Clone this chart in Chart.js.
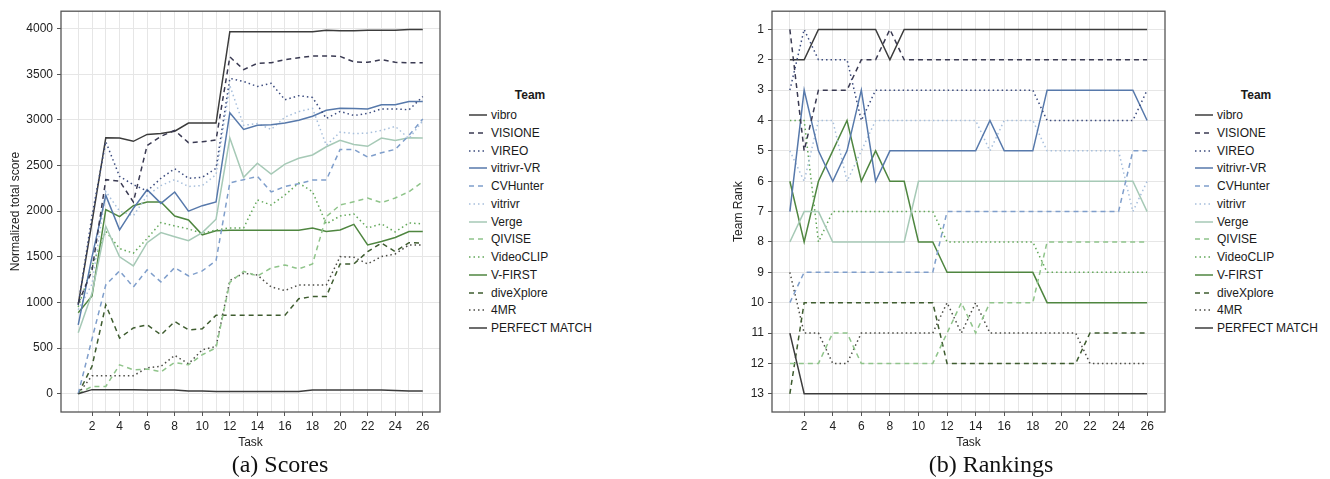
<!DOCTYPE html>
<html>
<head>
<meta charset="utf-8">
<script src="https://cdn.jsdelivr.net/npm/chart.js@4.4.1/dist/chart.umd.min.js"></script>
<style>
    body { margin: 0; background: #fff; width: 1330px; height: 479px; position: relative; overflow: hidden;
           font-family: "Liberation Sans", Arial, sans-serif; }
    .box { position: absolute; top: 0; }
    .legend { position: absolute; font-size: 12px; color: #1a1a1a; }
    .legend .title { position: absolute; font-weight: bold; width: 100px; text-align: center; }
    .legend .item { position: absolute; white-space: nowrap; height: 14px; line-height: 14px; }
    .legend svg { position: absolute; left: 0; top: 5px; }
    .legend span { position: absolute; left: 22px; top: 0; }
    .caption { position: absolute; top: 450px; font-family: "Liberation Serif", "DejaVu Serif", serif; font-size: 24px;
               line-height: 28px; color: #111; text-align: center; width: 300px; }
</style>
</head>
<body>
<div class="box" style="left:0;width:445px;height:454px"><canvas id="scoreChart"></canvas></div>
<div class="box" style="left:723px;width:447px;height:454px"><canvas id="rankChart"></canvas></div>
<div class="legend" id="legendA" style="left:469px;top:88px"></div>
<div class="legend" id="legendB" style="left:1195px;top:88px"></div>
<div class="caption" style="left:130px">(a) Scores</div>
<div class="caption" style="left:841px">(b) Rankings</div>

<script>
// data
const tasks = [1, 2, 3, 4, 5, 6, 7, 8, 9, 10, 11, 12, 13, 14, 15, 16, 17, 18, 19, 20, 21, 22, 23, 24, 25, 26];
const teams = ['vibro', 'VISIONE', 'VIREO', 'vitrivr-VR', 'CVHunter', 'vitrivr', 'Verge', 'QIVISE',
               'VideoCLIP', 'V-FIRST', 'diveXplore', '4MR', 'PERFECT MATCH'];
const scoreTicks = [0, 500, 1000, 1500, 2000, 2500, 3000, 3500, 4000];
const rankTicks = [1, 2, 3, 4, 5, 6, 7, 8, 9, 10, 11, 12, 13];

// normalized total score per task
const scoreVibro      = [0, 45, 45, 45, 45, 40, 40, 40, 30, 30, 25, 25, 25, 25, 25, 25, 25, 40, 40, 40, 40, 40, 40, 35, 30, 30];
const scoreVisione    = [990, 1350, 2345, 2330, 2100, 2720, 2820, 2885, 2750, 2760, 2780, 3690, 3550, 3620, 3625, 3660, 3680, 3700, 3700, 3695, 3635, 3630, 3660, 3630, 3625, 3625];
const scoreVireo      = [970, 1950, 2760, 2380, 2290, 2220, 2360, 2465, 2360, 2370, 2470, 3455, 3420, 3365, 3400, 3220, 3265, 3245, 3015, 3092, 3048, 3070, 3120, 3120, 3110, 3255];
const scoreVitrivrVR  = [755, 1500, 2173, 1795, 2030, 2235, 2085, 2210, 2000, 2060, 2100, 3077, 2895, 2940, 2945, 2965, 2995, 3040, 3105, 3128, 3125, 3120, 3165, 3165, 3200, 3200];
const scoreCVHunter   = [0, 600, 1192, 1345, 1170, 1357, 1225, 1382, 1290, 1345, 1458, 2310, 2345, 2380, 2210, 2270, 2300, 2340, 2340, 2676, 2676, 2592, 2640, 2676, 2830, 3010];
const scoreVitrivr    = [920, 1200, 2216, 2000, 1950, 2170, 2280, 2345, 2270, 2280, 2400, 3375, 2940, 2960, 2895, 3030, 3090, 3125, 2720, 2866, 2850, 2855, 2884, 2928, 2795, 2990];
const scoreVerge      = [667, 1100, 1834, 1500, 1400, 1655, 1765, 1720, 1677, 1765, 1912, 2800, 2370, 2525, 2405, 2515, 2580, 2615, 2705, 2775, 2730, 2710, 2800, 2775, 2805, 2800];
const scoreQivise     = [0, 80, 80, 317, 262, 270, 240, 343, 317, 427, 503, 1220, 1340, 1290, 1378, 1411, 1367, 1422, 1940, 2067, 2104, 2144, 2093, 2144, 2213, 2322];
const scoreVideoClip  = [950, 1400, 1780, 1590, 1540, 1700, 1874, 1838, 1805, 1755, 1794, 1816, 1816, 2122, 2067, 2177, 2308, 2213, 1860, 1947, 1969, 1816, 1860, 1772, 1871, 1860];
const scoreVFirst     = [886, 1070, 2016, 1940, 2060, 2100, 2100, 1947, 1904, 1740, 1785, 1790, 1790, 1790, 1790, 1790, 1790, 1816, 1776, 1794, 1855, 1630, 1667, 1711, 1776, 1776];
const scoreDiveXplore = [0, 300, 974, 610, 720, 755, 645, 791, 700, 711, 860, 860, 860, 860, 860, 860, 1040, 1065, 1065, 1422, 1422, 1557, 1650, 1557, 1655, 1650];
const score4MR        = [0, 197, 197, 197, 197, 284, 300, 420, 328, 481, 518, 1240, 1320, 1300, 1170, 1130, 1192, 1190, 1190, 1502, 1495, 1422, 1502, 1531, 1630, 1630];
const scorePerfect    = [980, 1880, 2805, 2800, 2765, 2840, 2850, 2875, 2965, 2965, 2965, 3965, 3965, 3965, 3965, 3965, 3965, 3965, 3980, 3975, 3975, 3980, 3980, 3980, 3990, 3990];

// team rank per task
const rankVibro      = [11, 13, 13, 13, 13, 13, 13, 13, 13, 13, 13, 13, 13, 13, 13, 13, 13, 13, 13, 13, 13, 13, 13, 13, 13, 13];
const rankVisione    = [1, 5, 3, 3, 3, 2, 2, 1, 2, 2, 2, 2, 2, 2, 2, 2, 2, 2, 2, 2, 2, 2, 2, 2, 2, 2];
const rankVireo      = [3, 1, 2, 2, 2, 4, 3, 3, 3, 3, 3, 3, 3, 3, 3, 3, 3, 3, 4, 4, 4, 4, 4, 4, 4, 3];
const rankVitrivrVR  = [7, 3, 5, 6, 5, 3, 6, 5, 5, 5, 5, 5, 5, 5, 4, 5, 5, 5, 3, 3, 3, 3, 3, 3, 3, 4];
const rankCVHunter   = [10, 9, 9, 9, 9, 9, 9, 9, 9, 9, 9, 7, 7, 7, 7, 7, 7, 7, 7, 7, 7, 7, 7, 7, 5, 5];
const rankVitrivr    = [5, 6, 4, 4, 6, 5, 4, 4, 4, 4, 4, 4, 4, 4, 5, 4, 4, 4, 5, 5, 5, 5, 5, 5, 7, 6];
const rankVerge      = [8, 7, 7, 8, 8, 8, 8, 8, 8, 6, 6, 6, 6, 6, 6, 6, 6, 6, 6, 6, 6, 6, 6, 6, 6, 7];
const rankQivise     = [12, 12, 12, 11, 11, 12, 12, 12, 12, 12, 12, 11, 10, 11, 10, 10, 10, 10, 8, 8, 8, 8, 8, 8, 8, 8];
const rankVideoClip  = [4, 4, 8, 7, 7, 7, 7, 7, 7, 7, 7, 8, 8, 8, 8, 8, 8, 8, 9, 9, 9, 9, 9, 9, 9, 9];
const rankVFirst     = [6, 8, 6, 5, 4, 6, 5, 6, 6, 8, 8, 9, 9, 9, 9, 9, 9, 9, 10, 10, 10, 10, 10, 10, 10, 10];
const rankDiveXplore = [13, 10, 10, 10, 10, 10, 10, 10, 10, 10, 10, 12, 12, 12, 12, 12, 12, 12, 12, 12, 12, 11, 11, 11, 11, 11];
const rank4MR        = [9, 11, 11, 12, 12, 11, 11, 11, 11, 11, 11, 10, 11, 10, 11, 11, 11, 11, 11, 11, 11, 12, 12, 12, 12, 12];
const rankPerfect    = [2, 2, 1, 1, 1, 1, 1, 2, 1, 1, 1, 1, 1, 1, 1, 1, 1, 1, 1, 1, 1, 1, 1, 1, 1, 1];

const scoreSeries = [scoreVibro, scoreVisione, scoreVireo, scoreVitrivrVR, scoreCVHunter, scoreVitrivr, scoreVerge,
                     scoreQivise, scoreVideoClip, scoreVFirst, scoreDiveXplore, score4MR, scorePerfect];
const rankSeries = [rankVibro, rankVisione, rankVireo, rankVitrivrVR, rankCVHunter, rankVitrivr, rankVerge,
                    rankQivise, rankVideoClip, rankVFirst, rankDiveXplore, rank4MR, rankPerfect];

// line look per team
const DASHED = [5, 4], DOTTED = [1.5, 3], SOLID = [];
const teamColors = ['#3c3c3c', '#3a3a52', '#3b4b7e', '#5779ab', '#7f9ecb', '#a7bfdc', '#a6c9b6',
                    '#8fc48a', '#63a85a', '#4f8640', '#3e5c2f', '#4b4b45', '#3c3c3c'];
const teamDashes = [SOLID, DASHED, DOTTED, SOLID, DASHED, DOTTED, SOLID, DASHED, DOTTED, SOLID, DASHED, DOTTED, SOLID];

Chart.defaults.font.family = '"Liberation Sans", Arial, sans-serif';
Chart.defaults.font.size = 12;
Chart.defaults.color = '#333';

const framePlugin = {
    id: 'frame',
    afterDraw(chart) {
        const { ctx, chartArea: a } = chart;
        ctx.save();
        ctx.strokeStyle = '#555';
        ctx.lineWidth = 1.3;
        ctx.strokeRect(a.left, a.top, a.right - a.left, a.bottom - a.top);
        ctx.restore();
    }
};

function buildDatasets(series) {
    return teams.map((name, i) => ({
        label: name,
        data: tasks.map((t, j) => ({ x: t, y: series[i][j] })),
        borderColor: teamColors[i],
        borderDash: teamDashes[i],
        borderWidth: 1.5,
        pointRadius: 0,
        tension: 0,
        fill: false
    }));
}

function xScale() {
    return {
        type: 'linear',
        min: -0.25,
        max: 27.25,
        afterBuildTicks: s => { s.ticks = tasks.map(v => ({ value: v })); },
        afterFit: s => { s.height = 42; },
        border: { display: false },
        grid: {
            color: '#e6e6e6',
            lineWidth: 1,
            tickLength: 4,
            tickColor: c => (c.tick && c.tick.value % 2 === 0) ? '#555' : 'rgba(0,0,0,0)'
        },
        ticks: {
            autoSkip: false,
            maxRotation: 0,
            padding: 3,
            color: '#222',
            callback: v => (v % 2 === 0 ? String(v) : '')
        },
        title: { display: true, text: 'Task', color: '#222', padding: { top: 2, bottom: 4 } }
    };
}

function initScoreChart() {
    const ctx = document.getElementById('scoreChart').getContext('2d');
    new Chart(ctx, {
        type: 'line',
        data: { datasets: buildDatasets(scoreSeries) },
        plugins: [framePlugin],
        options: {
            responsive: true,
            maintainAspectRatio: false,
            animation: false,
            layout: { padding: { left: 4, top: 10, right: 5, bottom: 0 } },
            plugins: { legend: { display: false }, tooltip: { enabled: false } },
            scales: {
                x: xScale(),
                y: {
                    min: -200,
                    max: 4190,
                    afterBuildTicks: s => { s.ticks = scoreTicks.map(v => ({ value: v })); },
                    afterFit: s => { s.width = 57; },
                    border: { display: false },
                    grid: { color: '#e6e6e6', tickLength: 4, tickColor: '#555' },
                    ticks: { padding: 4, color: '#222', callback: v => String(v) },
                    title: { display: true, text: 'Normalized total score', color: '#222' }
                }
            }
        }
    });
}

function initRankChart() {
    const ctx = document.getElementById('rankChart').getContext('2d');
    new Chart(ctx, {
        type: 'line',
        data: { datasets: buildDatasets(rankSeries) },
        plugins: [framePlugin],
        options: {
            responsive: true,
            maintainAspectRatio: false,
            animation: false,
            layout: { padding: { left: 4, top: 10, right: 5, bottom: 0 } },
            plugins: { legend: { display: false }, tooltip: { enabled: false } },
            scales: {
                x: xScale(),
                y: {
                    reverse: true,
                    min: 0.4,
                    max: 13.6,
                    afterBuildTicks: s => { s.ticks = rankTicks.map(v => ({ value: v })); },
                    afterFit: s => { s.width = 45; },
                    border: { display: false },
                    grid: { color: '#e6e6e6', tickLength: 4, tickColor: '#555' },
                    ticks: { padding: 4, color: '#222' },
                    title: { display: true, text: 'Team Rank', color: '#222' }
                }
            }
        }
    });
}

function buildLegend(id) {
    const el = document.getElementById(id);
    let html = '<div class="title" style="left:11px;top:0">Team</div>';
    teams.forEach((name, i) => {
        const dash = teamDashes[i].length ? `stroke-dasharray="${teamDashes[i].join(' ')}"` : '';
        html += `<div class="item" style="left:0;top:${20 + i * 17.75}px">` +
            `<svg width="18" height="4"><line x1="0" y1="2" x2="18" y2="2" stroke="${teamColors[i]}" ` +
            `stroke-width="1.5" ${dash}/></svg><span>${name}</span></div>`;
    });
    el.innerHTML = html;
}

document.addEventListener('DOMContentLoaded', () => {
    initScoreChart();
    initRankChart();
    buildLegend('legendA');
    buildLegend('legendB');
});
</script>
</body>
</html>
